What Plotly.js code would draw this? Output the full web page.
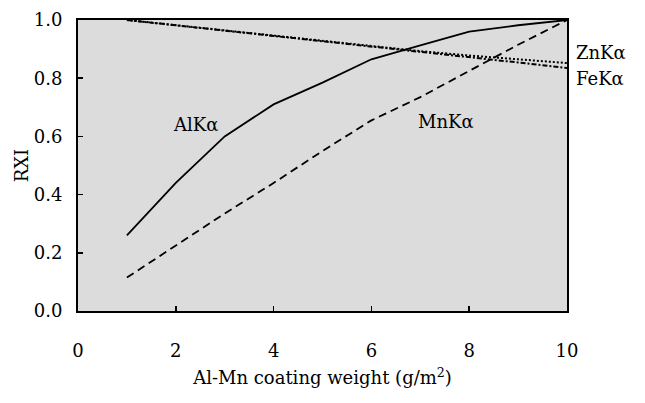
<!DOCTYPE html>
<html>
<head>
<meta charset="utf-8">
<script src="https://cdn.plot.ly/plotly-3.0.1.min.js"></script>
<style>html,body{margin:0;padding:0;background:#fff;}#chart{width:645px;height:403px;}</style>
</head>
<body>
<div id="chart"></div>
<script>
// Coating weight (g/m2)
const coatingWeight = [1, 2, 3, 4, 5, 6, 7, 8, 9, 10];
// Relative X-ray intensity
const alKa = [0.26, 0.44, 0.60, 0.71, 0.785, 0.865, 0.913, 0.96, 0.982, 1.0];
const mnKa = [0.115, 0.225, 0.335, 0.44, 0.55, 0.655, 0.735, 0.825, 0.915, 1.0];
const znKa = [1.0, 0.982, 0.964, 0.946, 0.928, 0.91, 0.893, 0.878, 0.865, 0.852];
const feKa = [1.0, 0.982, 0.964, 0.946, 0.928, 0.91, 0.892, 0.873, 0.854, 0.835];
const seriesLabels = ["AlKα", "MnKα", "ZnKα", "FeKα"];
const xTicks = [0, 2, 4, 6, 8, 10];
const yTicks = [0.0, 0.2, 0.4, 0.6, 0.8, 1.0];
const yTickText = ["0.0", "0.2", "0.4", "0.6", "0.8", "1.0"];

const font = "DejaVu Serif, serif";
const ink = "#000";
const fs = 18;

const traces = [
  {x: coatingWeight, y: alKa, name: seriesLabels[0], mode: "lines", line: {color: ink, width: 1.8, dash: "solid"}},
  {x: coatingWeight, y: mnKa, name: seriesLabels[1], mode: "lines", line: {color: ink, width: 1.8, dash: "8px,5px"}},
  {x: coatingWeight, y: znKa, name: seriesLabels[2], mode: "lines", line: {color: ink, width: 2, dash: "2px,2px"}},
  {x: coatingWeight, y: feKa, name: seriesLabels[3], mode: "lines", line: {color: ink, width: 2, dash: "5px,2px,2px,2px"}}
];

const layout = {
  width: 645, height: 403,
  margin: {l: 78, r: 78, t: 20, b: 92},
  paper_bgcolor: "#ffffff",
  plot_bgcolor: "#dcdcdc",
  showlegend: false,
  font: {family: font, size: fs, color: ink},
  xaxis: {
    range: [0, 10], tickvals: xTicks, ticks: "inside", ticklen: 5, tickwidth: 1.5, tickcolor: ink,
    showline: true, linecolor: ink, linewidth: 2, mirror: true, showgrid: false, zeroline: false,
    ticklabelstandoff: 22, automargin: true,
    tickfont: {family: font, size: fs, color: ink},
    title: {text: "Al-Mn coating weight (g/m<sup>2</sup>)", font: {family: font, size: fs, color: ink}, standoff: 12}
  },
  yaxis: {
    range: [0, 1], tickvals: yTicks, ticktext: yTickText, ticks: "inside", ticklen: 5, tickwidth: 1.5, tickcolor: ink,
    showline: true, linecolor: ink, linewidth: 2, mirror: true, showgrid: false, zeroline: false,
    ticklabelstandoff: 10, automargin: false,
    tickfont: {family: font, size: fs, color: ink},
    title: {text: "RXI", font: {family: font, size: fs, color: ink}, standoff: 0}
  },
  annotations: [
    {x: 2.41, y: 0.64, xref: "x", yref: "y", text: seriesLabels[0], showarrow: false, font: {family: font, size: fs, color: ink}},
    {x: 7.53, y: 0.65, xref: "x", yref: "y", text: seriesLabels[1], showarrow: false, font: {family: font, size: fs, color: ink}},
    {x: 1.014, y: 0.887, xref: "paper", yref: "paper", text: seriesLabels[2], xanchor: "left", yanchor: "middle", showarrow: false, font: {family: font, size: fs, color: ink}},
    {x: 1.014, y: 0.80, xref: "paper", yref: "paper", text: seriesLabels[3], xanchor: "left", yanchor: "middle", showarrow: false, font: {family: font, size: fs, color: ink}}
  ]
};

Plotly.newPlot("chart", traces, layout, {displayModeBar: false, staticPlot: true});
</script>
</body>
</html>
